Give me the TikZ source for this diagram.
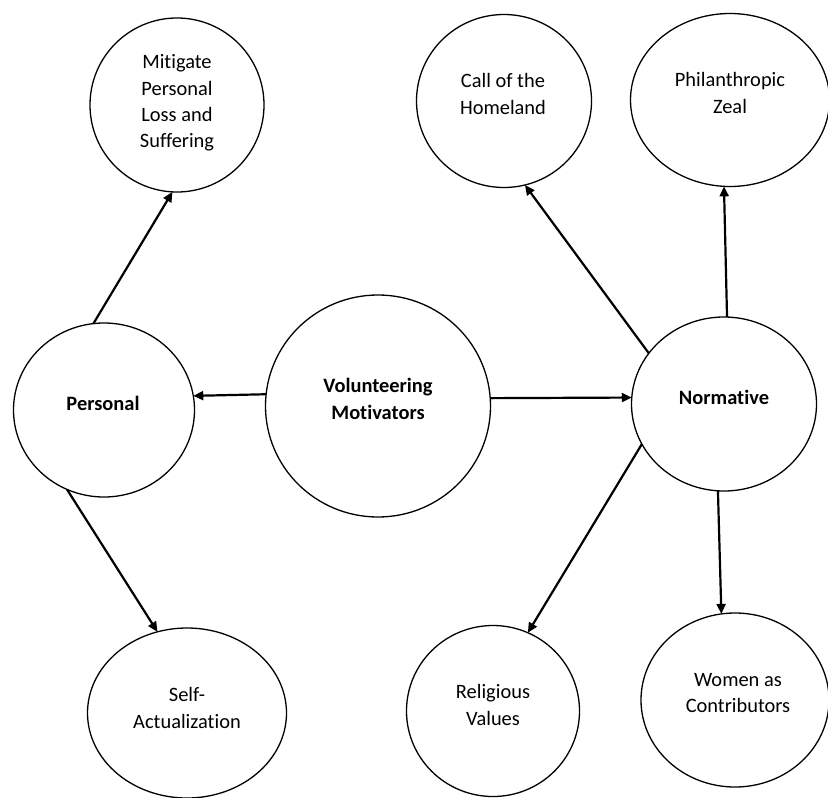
\documentclass[tikz,border=0pt]{standalone}
\usepackage{fontspec}
\setmainfont{Carlito}[Ligatures={NoCommon,NoContextual}]
\usetikzlibrary{shapes.geometric,arrows.meta}
\begin{document}
\begin{tikzpicture}[x=1bp,y=-1bp,
  bub/.style={draw, ellipse, line width=1.3bp, inner sep=0pt, outer sep=0pt},
  txt/.style={align=center, font=\fontsize{20.5}{26.5}\selectfont, inner sep=0pt},
  btxt/.style={align=center, font=\fontsize{20.5}{26.5}\selectfont\bfseries, inner sep=0pt},
  arr/.style={line width=2.2bp, -{Triangle[length=10bp,width=9bp]}}]
\useasboundingbox (0,0) rectangle (828,798);
% bubbles
\node[bub, minimum width=174bp, minimum height=174bp] (mit) at (177,105) {};
\node[bub, minimum width=175bp, minimum height=173bp] (call) at (504,101) {};
\node[bub, minimum width=199bp, minimum height=173bp] (phil) at (730,100) {};
\node[bub, minimum width=181bp, minimum height=174bp] (pers) at (104,410) {};
\node[bub, minimum width=225bp, minimum height=222bp] (vol) at (378,406) {};
\node[bub, minimum width=185bp, minimum height=174bp] (norm) at (724,404) {};
\node[bub, minimum width=199bp, minimum height=170bp] (self) at (187,713) {};
\node[bub, minimum width=173bp, minimum height=171bp] (rel) at (493,711) {};
\node[bub, minimum width=188bp, minimum height=174bp] (wom) at (735,700) {};
% texts
\node[txt] (tmit) at (177,103) {Mitigate\\Personal\\Loss and\\Suffering};
\node[txt] (tcall) at (503,94) {Call of the\\Homeland};
\node[txt] (tphil) at (730,93) {Philanthropic\\Zeal};
\node[btxt] (tpers) at (103,403) {Personal};
\node[btxt] (tvol) at (378,399) {Volunteering\\Motivators};
\node[btxt] (tnorm) at (724,397) {Normative};
\node[txt] (tself) at (187,708) {Self-\\Actualization};
\node[txt] (trel) at (493,705) {Religious\\Values};
\node[txt] (twom) at (738,693) {Women as\\Contributors};
% connectors
\draw[arr] (vol.174.4) -- (pers.9.6);
\draw[arr] (vol.4) -- (norm.176.2);
\draw[arr] (pers.97.8) -- (mit.267.4);
\draw[arr] (pers.245.7) -- (self.110.3);
\draw[arr] (norm.146) -- (call.284.3);
\draw[arr] (norm.88.7) -- (phil.266.7);
\draw[arr] (norm.206.3) -- (rel.66.4);
\draw[arr] (norm.266.8) -- (wom.99.6);
\end{tikzpicture}
\end{document}
